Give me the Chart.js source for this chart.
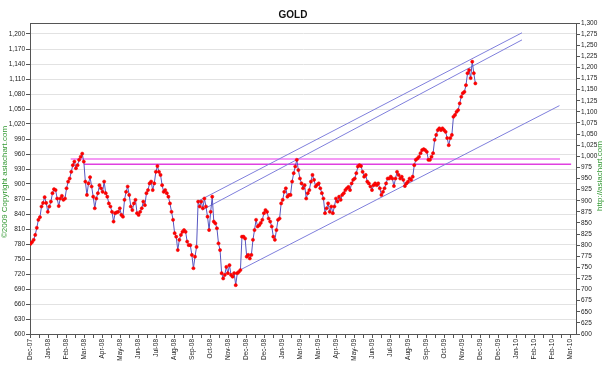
<!DOCTYPE html>
<html>
<head>
<meta charset="utf-8">
<title>GOLD</title>
<script src="https://cdn.jsdelivr.net/npm/chart.js@4.4.0/dist/chart.umd.min.js"></script>
<style>
    html, body { margin: 0; padding: 0; background: #fff; }
    canvas { display: block; }
</style>
</head>
<body>
<canvas id="chart_gold" width="604" height="372"></canvas>
<script>
const monthLabels = ['Dec-07', 'Jan-08', 'Feb-08', 'Mar-08', 'Apr-08', 'May-08', 'Jun-08', 'Jul-08',
    'Aug-08', 'Sep-08', 'Oct-08', 'Nov-08', 'Dec-08', 'Dec-08', 'Jan-09', 'Mar-09', 'Mar-09', 'Apr-09',
    'May-09', 'Jun-09', 'Jul-09', 'Aug-09', 'Sep-09', 'Oct-09', 'Nov-09', 'Dec-09', 'Dec-09', 'Jan-10',
    'Feb-10', 'Feb-10', 'Mar-10'];

const leftTicks = [600, 630, 660, 690, 720, 750, 780, 810, 840, 870, 900, 930, 960, 990, 1020,
    1050, 1080, 1110, 1140, 1170, 1200];
const rightTicks = [600, 625, 650, 675, 700, 725, 750, 775, 800, 825, 850, 875, 900, 925, 950, 975,
    1000, 1025, 1050, 1075, 1100, 1125, 1150, 1175, 1200, 1225, 1250, 1275, 1300];

// gold closes, Dec-07 .. early Dec-09 (USD/oz)
const prices = [
    803, 807, 812, 823, 839, 857, 863, 887, 895, 908, 895, 875, 887, 898, 917, 926, 924, 905, 888, 905,
    911, 902, 905, 928, 943, 950, 965, 980, 988, 973, 980, 992, 999, 1006, 988, 943, 913, 939, 953, 932,
    909, 883, 905, 917, 935, 928, 920, 943, 917, 909, 894, 887, 875, 853, 872, 874, 875, 883, 868, 864,
    902, 920, 932, 913, 887, 879, 894, 902, 872, 868,
    875, 883, 898, 890, 917, 924, 939, 943, 924, 939, 965, 978, 965, 958, 935, 920, 924, 917, 909, 894,
    875, 857, 827, 819, 789, 812, 823, 830, 834, 830, 808, 800, 800, 778, 748, 774, 796, 898, 887, 898,
    883, 905, 887, 864, 834, 875, 909, 853, 849, 838, 804, 789, 737, 725, 733, 751, 737, 755, 733, 729,
    737, 710, 737, 740, 744, 819, 819, 815, 774, 778, 770, 778, 812, 834,
    857, 842, 845, 850, 857, 872, 879, 875, 860, 853, 842, 819, 812, 834, 857, 860, 894, 902, 920, 928,
    909, 913, 913, 943, 962, 977, 992, 969, 950, 939, 928, 935, 905, 917, 924, 943, 958, 947, 932, 936,
    939, 928, 917, 905, 872, 883, 894, 875, 887, 872, 887, 905, 898, 909, 902, 913, 917, 924, 928, 931,
    924, 939, 947, 950, 962, 977, 980, 978, 965, 954, 958, 943, 939, 932,
    924, 935, 939, 935, 939, 928, 913, 920, 928, 939, 950, 950, 954, 950, 933, 950, 965, 958, 950, 954,
    947, 933, 939, 943, 950, 947, 954, 980, 992, 995, 999, 1007, 1014, 1016, 1014, 1010, 992, 992, 999, 1007,
    1037, 1048, 1059, 1063, 1059, 1063, 1059, 1055, 1041, 1025, 1041, 1048, 1089, 1093, 1100, 1104, 1119, 1134, 1142, 1145,
    1160, 1187, 1194, 1176, 1213, 1187, 1164
];
// date of first and last close, counted in label slots from Dec-07
const priceFrom = 0.03;
const priceTo = 24.74;

// hand drawn trend lines [slot, price]
const channelTop = [[9.33, 899], [27.33, 1278]];
const channelMid = [[9.56, 879], [27.33, 1262]];
const channelBottom = [[11.76, 746], [29.41, 1114]];
const resistanceHigh = [[2.26, 994], [29.44, 994]];
const resistanceLow = [[3.0, 982], [30.06, 982]];

const fontFamily = '"Liberation Sans", Arial, sans-serif';

document.addEventListener('DOMContentLoaded', function(){
    const step = (priceTo - priceFrom) / (prices.length - 1);
    const goldPoints = prices.map((p, i) => ({x: priceFrom + i * step, y: p}));

    new Chart(document.querySelector('#chart_gold'), {
        type: 'line',
        data: {
            datasets: [
                {
                    label: 'Gold',
                    data: goldPoints,
                    yAxisID: 'y2',
                    borderColor: '#5656c0',
                    borderWidth: 1,
                    pointStyle: 'circle',
                    pointRadius: 1.6,
                    pointBackgroundColor: '#ff0000',
                    pointBorderColor: '#ee0000',
                    pointBorderWidth: 0.5,
                    tension: 0
                },
                trendLine(channelTop, '#7f7fdc', 1),
                trendLine(channelMid, '#7f7fdc', 1),
                trendLine(channelBottom, '#7f7fdc', 1),
                trendLine(resistanceHigh, '#f49af4', 2),
                trendLine(resistanceLow, '#e040e0', 1.5)
            ]
        },
        options: settings(),
        plugins: [decorations]
    });
});

function trendLine(points, color, width) {
    return {
        data: points.map(p => ({x: p[0], y: p[1]})),
        yAxisID: 'y2',
        borderColor: color,
        borderWidth: width,
        pointRadius: 0,
        tension: 0
    };
}

function settings() {
    const tickFont = {family: fontFamily, size: 6.5};
    return {
        responsive: false,
        animation: false,
        devicePixelRatio: 1,
        layout: {padding: {top: 23, left: 0, right: 0, bottom: 0}},
        plugins: {
            legend: {display: false},
            tooltip: {enabled: false}
        },
        scales: {
            x: {
                type: 'linear',
                min: 0,
                max: 30.33,
                afterBuildTicks: scale => {
                    const list = [];
                    monthLabels.forEach((label, i) => {
                        list.push({value: i});
                        if (i < monthLabels.length - 1) list.push({value: i + 0.5});
                    });
                    scale.ticks = list;
                },
                afterFit: scale => { scale.height = 38; },
                ticks: {
                    autoSkip: false,
                    minRotation: 90,
                    maxRotation: 90,
                    padding: 1,
                    color: '#222',
                    font: tickFont,
                    callback: v => Number.isInteger(v) ? monthLabels[v] : ''
                },
                grid: {drawOnChartArea: false, tickLength: 4, tickColor: '#555'},
                border: {color: '#555'}
            },
            y: {
                position: 'left',
                min: 600,
                max: 1222,
                afterBuildTicks: scale => { scale.ticks = leftTicks.map(v => ({value: v})); },
                afterFit: scale => { scale.width = 30; },
                ticks: {
                    padding: 1,
                    color: '#222',
                    font: tickFont,
                    callback: v => v.toLocaleString('en-US')
                },
                grid: {color: '#e2e2e2', tickColor: '#555', tickLength: 4},
                border: {color: '#555'}
            },
            y2: {
                position: 'right',
                min: 600,
                max: 1300,
                afterBuildTicks: scale => { scale.ticks = rightTicks.map(v => ({value: v})); },
                afterFit: scale => { scale.width = 28; },
                ticks: {
                    padding: 1,
                    color: '#222',
                    font: tickFont,
                    callback: v => v.toLocaleString('en-US')
                },
                grid: {drawOnChartArea: false, tickColor: '#555', tickLength: 4},
                border: {color: '#555'}
            }
        }
    };
}

// title, frame top and the two site notes
const decorations = {
    id: 'decorations',
    afterDraw(chart) {
        const ctx = chart.ctx;
        const area = chart.chartArea;
        ctx.save();
        ctx.strokeStyle = '#555';
        ctx.lineWidth = 1;
        ctx.beginPath();
        ctx.moveTo(area.left, Math.round(area.top) + 0.5);
        ctx.lineTo(area.right, Math.round(area.top) + 0.5);
        ctx.stroke();

        ctx.fillStyle = '#111';
        ctx.font = 'bold 10px ' + fontFamily;
        ctx.textAlign = 'center';
        ctx.textBaseline = 'middle';
        ctx.fillText('GOLD', 293, 15);

        ctx.fillStyle = '#339933';
        ctx.font = '8px ' + fontFamily;
        sideText(ctx, '©2009 Copyright asiachart.com', 5, 182);
        sideText(ctx, 'http://asiachart.com', 600, 176);
        ctx.restore();
    }
};

function sideText(ctx, text, x, y) {
    ctx.save();
    ctx.translate(x, y);
    ctx.rotate(-Math.PI / 2);
    ctx.fillText(text, 0, 0);
    ctx.restore();
}
</script>
</body>
</html>
